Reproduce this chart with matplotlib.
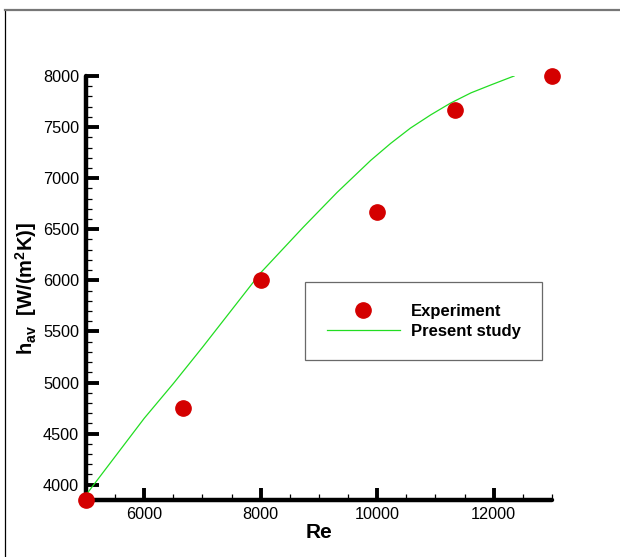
import matplotlib
matplotlib.use('Agg')
import matplotlib.pyplot as plt
from matplotlib.lines import Line2D
from matplotlib.ticker import MultipleLocator

plt.rcParams['font.family'] = 'Liberation Sans'
plt.rcParams['mathtext.fontset'] = 'custom'
plt.rcParams['mathtext.rm'] = 'Liberation Sans:bold'
plt.rcParams['mathtext.it'] = 'Liberation Sans:bold'
plt.rcParams['mathtext.bf'] = 'Liberation Sans:bold'

# measured points
re_exp = [5000, 6667, 8000, 10000, 11333, 13000]
h_exp = [3850, 4750, 6000, 6670, 7670, 8000]

# numerical result
re_num = [5000, 6000, 6500, 7000, 8000, 8730, 9310, 9890, 10230, 10570,
          10920, 11260, 11610, 11950, 12350]
h_num = [3900, 4650, 4990, 5345, 6075, 6520, 6860, 7175, 7340, 7490,
         7620, 7735, 7835, 7912, 8000]

fig = plt.figure(figsize=(6.2, 5.57), dpi=100)
ax = fig.add_axes([0.1387, 0.1023, 0.7516, 0.7613])

ax.plot(re_num, h_num, color='#22dd22', lw=0.9, label='Present study', zorder=3)
ax.plot(re_exp, h_exp, 'o', color='#d40000', ms=11, mec='#d40000',
        label='Experiment', clip_on=False, zorder=5)

ax.set_xlim(5000, 13000)
ax.set_ylim(3850, 8000)

for side in ['top', 'right']:
    ax.spines[side].set_visible(False)
for side in ['left', 'bottom']:
    ax.spines[side].set_linewidth(3.2)
    ax.spines[side].set_capstyle('round')

ax.xaxis.set_minor_locator(MultipleLocator(500))
ax.yaxis.set_major_locator(MultipleLocator(500))
ax.yaxis.set_minor_locator(MultipleLocator(100))
ax.set_xticks([6000, 8000, 10000, 12000])

ax.tick_params(which='major', direction='in', length=9, width=2.8, labelsize=11.7, pad=5)
ax.tick_params(which='minor', direction='in', length=4.5, width=0.9)

ax.set_xlabel('Re', fontsize=15, fontweight='bold', labelpad=1)
ax.set_ylabel(r'h$_{\mathrm{av}}$  [W/(m$^{\mathrm{2}}$K)]', fontsize=14.5,
              fontweight='bold', labelpad=3)

handles, labels = ax.get_legend_handles_labels()
leg = ax.legend(handles[::-1], labels[::-1], loc='upper left',
                bbox_to_anchor=(0.470, 0.514), frameon=True, fancybox=False,
                prop={'weight': 'bold', 'size': 12}, handlelength=4.4,
                borderpad=1.3, labelspacing=0.3, handletextpad=0.65,
                borderaxespad=0)
leg.get_frame().set_edgecolor('#444444')
leg.get_frame().set_linewidth(0.9)

# page border
fig.add_artist(Line2D([0.008, 0.008], [0, 0.982], color='black', lw=0.9))
fig.add_artist(Line2D([0.008, 1.0], [0.982, 0.982], color='#777777', lw=1.6))

fig.savefig('out.png', dpi=100)
